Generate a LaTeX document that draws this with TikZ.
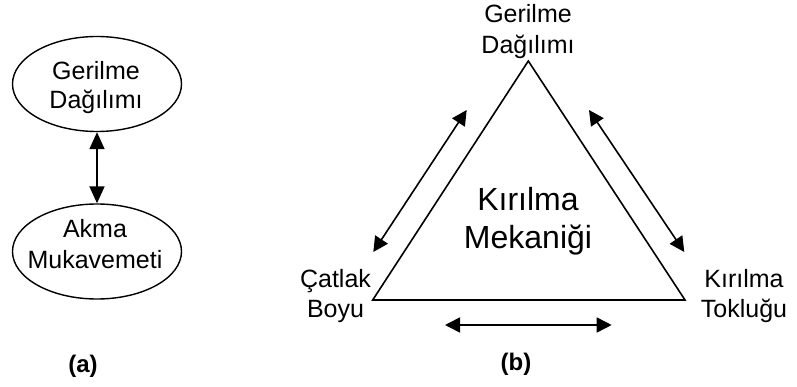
\documentclass[tikz,border=0pt]{standalone}
\usepackage{fontspec}
\setmainfont{Liberation Sans}
\usetikzlibrary{arrows.meta,shapes.geometric}
\tikzset{
  lbl/.style={anchor=base,inner sep=0pt,font=\fontsize{25}{30}\selectfont},
  biglbl/.style={anchor=base,inner sep=0pt,font=\fontsize{32}{38}\selectfont},
  captext/.style={anchor=base,inner sep=0pt,font=\fontsize{24}{28}\selectfont\bfseries},
  oval/.style={draw,ellipse,line width=1.4pt,inner sep=0pt},
  dbl/.style={line width=1.6pt,{Triangle[length=15pt,width=15pt]}-{Triangle[length=15pt,width=15pt]}},
  vdbl/.style={line width=1.8pt,{Triangle[length=17pt,width=15pt]}-{Triangle[length=17pt,width=15pt]}},
  tri/.style={line width=1.6pt,line join=miter}
}
\begin{document}
\begin{tikzpicture}[x=1pt,y=-1pt]
\useasboundingbox (0,0) rectangle (797,387);
% (a)
\node[oval,minimum width=169pt,minimum height=95pt] (e1) at (97,84) {};
\node[oval,minimum width=169pt,minimum height=95pt] (e2) at (97,251.5) {};
\node[lbl] (e1a) at (96,80) {Gerilme};
\node[lbl] (e1b) at (96,109) {Dağılımı};
\node[lbl] (e2a) at (95,238) {Akma};
\node[lbl] (e2b) at (95,269) {Mukavemeti};
\draw[vdbl] (e1.south) -- (e2.north);
\node[captext] (capa) at (83,372) {(a)};
% (b)
\coordinate (T) at (528.3,61);
\coordinate (L) at (372.7,300);
\coordinate (R) at (685,300);
\draw[tri] (T) -- (L) -- (R) -- cycle;
\node[lbl] (ta) at (528,23) {Gerilme};
\node[lbl] (tb) at (528,54) {Dağılımı};
\node[lbl] (la) at (335.5,287) {Çatlak};
\node[lbl] (lb) at (335.5,317) {Boyu};
\node[lbl] (ra) at (744,287) {Kırılma};
\node[lbl] (rb) at (744,317) {Tokluğu};
\node[biglbl] (ca) at (528,211) {Kırılma};
\node[biglbl] (cb) at (528,248) {Mekaniği};
\coordinate (a1) at (466.7,110);
\coordinate (a2) at (373.3,252);
\coordinate (b1) at (589,110);
\coordinate (b2) at (684.3,252);
\coordinate (c1) at (445,325);
\coordinate (c2) at (611.7,325);
\draw[dbl] (a1) -- (a2);
\draw[dbl] (b1) -- (b2);
\draw[dbl] (c1) -- (c2);
\node[captext] (capb) at (516,370) {(b)};
\end{tikzpicture}
\end{document}
